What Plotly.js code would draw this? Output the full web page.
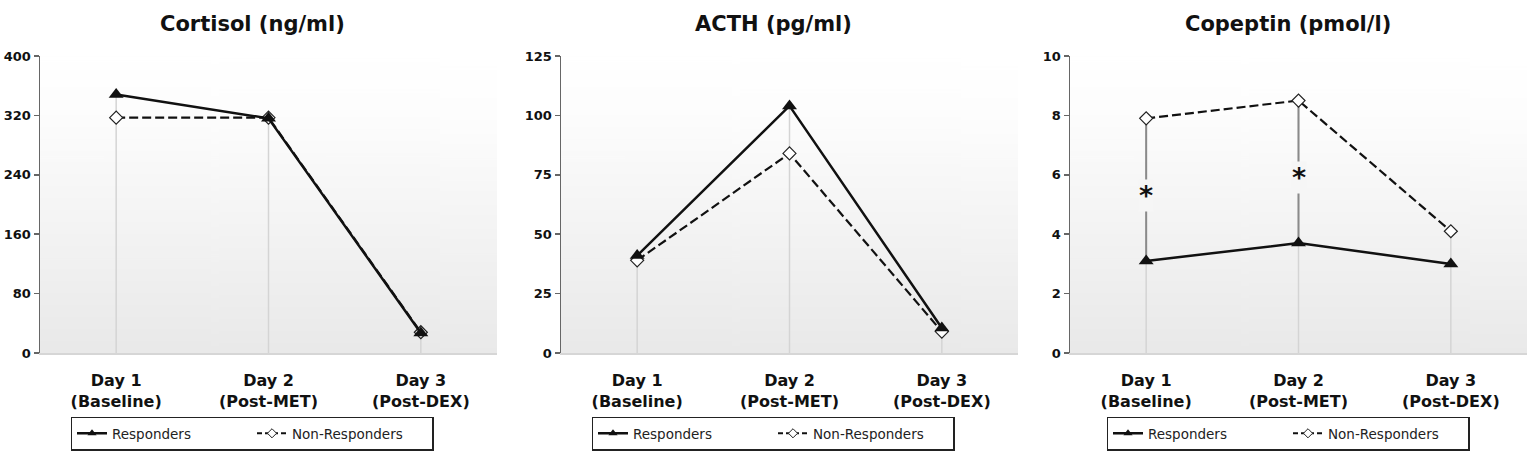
<!DOCTYPE html>
<html>
<head>
<meta charset="utf-8">
<script src="https://cdn.plot.ly/plotly-3.0.1.min.js"></script>
<style>
  html, body { margin: 0; padding: 0; background: #fff; }
  #chart { width: 1535px; height: 454px; }
</style>
</head>
<body>
<div id="chart"></div>
<script>
// categories
var days = ["Day 1<br>(Baseline)", "Day 2<br>(Post-MET)", "Day 3<br>(Post-DEX)"];

// series values
var cortisolResp = [348, 316, 27];
var cortisolNonResp = [317, 317, 28];
var acthResp = [41, 104, 10.5];
var acthNonResp = [39, 84, 9];
var copeptinResp = [3.1, 3.7, 3.0];
var copeptinNonResp = [7.9, 8.5, 4.1];
var copeptinSig = [true, true, false]; // * marks

var titles = ["Cortisol (ng/ml)", "ACTH (pg/ml)", "Copeptin (pmol/l)"];
var yMax = [400, 125, 10];
var yStep = [80, 25, 2];

var W = 1535, H = 454;
var font = "DejaVu Sans";

/* gradient for the plot area, like the excel fill */
function gradientURL() {
	var c = document.createElement("canvas");
	c.width = 4; c.height = 300;
	var ctx = c.getContext("2d");
	var g = ctx.createLinearGradient(0, 0, 0, 300);
	g.addColorStop(0, "#ffffff");
	g.addColorStop(0.2, "#fdfdfd");
	g.addColorStop(1, "#e9e9e9");
	ctx.fillStyle = g;
	ctx.fillRect(0, 0, 4, 300);
	return c.toDataURL();
}

// pixel boxes of each panel (left, right); top/bottom shared
var boxes = [[40, 497], [561, 1018], [1070, 1527]];
var plotTop = 56, plotBottom = 353;
var centers = [252, 773, 1288];

var panels = [
	{resp: cortisolResp, non: cortisolNonResp, sig: null},
	{resp: acthResp, non: acthNonResp, sig: null},
	{resp: copeptinResp, non: copeptinNonResp, sig: copeptinSig}
];

var data = [];
var layout = {
	width: W, height: H,
	margin: {l: 0, r: 0, t: 0, b: 0},
	paper_bgcolor: "#ffffff",
	plot_bgcolor: "rgba(0,0,0,0)",
	font: {family: font, color: "#111"},
	showlegend: true,
	annotations: [],
	images: []
};
var bg = gradientURL();
var yDom = [(H - plotBottom) / H, (H - plotTop) / H];

panels.forEach(function (p, i) {
	var n = i === 0 ? "" : String(i + 1);
	var xa = "x" + n, ya = "y" + n;
	var lg = "legend" + n;
	var dom = [boxes[i][0] / W, boxes[i][1] / W];

	// light drop lines from the higher point down to 0
	var dx = [], dy = [];
	days.forEach(function (d, k) {
		dx.push(d, d, null);
		dy.push(0, Math.max(p.resp[k], p.non[k]), null);
	});
	data.push({x: dx, y: dy, xaxis: xa, yaxis: ya, mode: "lines",
		line: {color: "#d4d4d4", width: 1.5}, hoverinfo: "skip", showlegend: false});

	// significance bars
	if (p.sig) {
		var sx = [], sy = [];
		days.forEach(function (d, k) {
			if (!p.sig[k]) return;
			sx.push(d, d, null);
			sy.push(p.resp[k], p.non[k], null);
			layout.annotations.push({
				xref: xa, yref: ya, x: d, y: (p.resp[k] + p.non[k]) / 2,
				text: "*", showarrow: false, yshift: -6,
				font: {family: font, size: 27, weight: "bold", color: "#111"},
				bgcolor: "#f6f6f6", borderpad: 0
			});
		});
		data.push({x: sx, y: sy, xaxis: xa, yaxis: ya, mode: "lines",
			line: {color: "#8a8a8a", width: 2}, hoverinfo: "skip", showlegend: false});
	}

	data.push({
		name: "Non-Responders", x: days, y: p.non, xaxis: xa, yaxis: ya,
		mode: "lines+markers", showlegend: false,
		line: {color: "#111", width: 2.2, dash: "9px,4px"},
		marker: {symbol: "diamond", size: 10, color: "#fff", line: {color: "#222", width: 1.2}}
	});
	data.push({
		name: "Responders", x: days, y: p.resp, xaxis: xa, yaxis: ya,
		mode: "lines+markers", showlegend: false,
		line: {color: "#111", width: 2.5},
		marker: {symbol: "triangle-up", size: 13, color: "#111"}
	});

	// legend-only entries (smaller markers, like the figure)
	data.push({name: "Responders", x: [null], y: [null], xaxis: xa, yaxis: ya,
		mode: "lines+markers", legend: lg,
		line: {color: "#111", width: 2.5},
		marker: {symbol: "triangle-up", size: 8, color: "#111"}});
	data.push({name: "Non-Responders", x: [null], y: [null], xaxis: xa, yaxis: ya,
		mode: "lines+markers", legend: lg,
		line: {color: "#111", width: 2, dash: "5px,3px"},
		marker: {symbol: "diamond", size: 7, color: "#fff", line: {color: "#222", width: 1}}});

	layout["xaxis" + n] = {
		domain: dom, anchor: ya, type: "category", range: [-0.5, 2.5],
		showgrid: false, zeroline: false, fixedrange: true,
		showline: true, linecolor: "#d6d6d6", linewidth: 1.5,
		ticks: "", ticklabelstandoff: 12,
		tickfont: {family: font, size: 16, weight: "bold", color: "#111"}
	};
	layout["yaxis" + n] = {
		domain: yDom, anchor: xa,
		range: [0, yMax[i]], tick0: 0, dtick: yStep[i],
		showgrid: false, zeroline: false, fixedrange: true,
		showline: true, linecolor: "#666", linewidth: 1.5,
		ticks: "outside", ticklen: 5, tickcolor: "#666", tickwidth: 1.5,
		tickfont: {family: font, size: 13, weight: "bold", color: "#111"}
	};

	layout[lg] = {
		orientation: "h", x: centers[i] / W, xanchor: "center",
		y: (H - 433.5) / H, yanchor: "middle",
		bordercolor: "#222", borderwidth: 1.5, bgcolor: "#fff",
		entrywidth: 135, entrywidthmode: "pixels",
		font: {family: font, size: 13.5, color: "#222"}
	};

	layout.images.push({
		source: bg, xref: "paper", yref: "paper",
		x: dom[0], y: yDom[1], sizex: dom[1] - dom[0], sizey: yDom[1] - yDom[0],
		sizing: "stretch", layer: "below"
	});

	layout.annotations.push({
		xref: "paper", yref: "paper", x: centers[i] / W, y: (H - 24) / H,
		xanchor: "center", yanchor: "middle",
		text: titles[i], showarrow: false,
		font: {family: font, size: 21, weight: "bold", color: "#111"}
	});
});

Plotly.newPlot("chart", data, layout, {displayModeBar: false, staticPlot: true});
</script>
</body>
</html>
